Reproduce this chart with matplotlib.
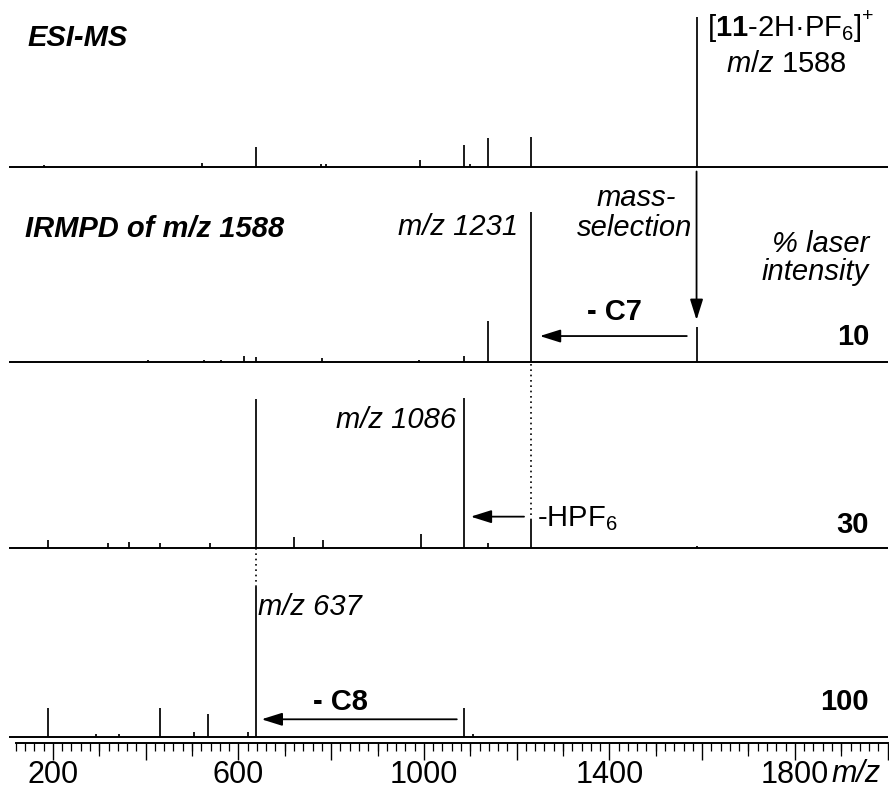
import matplotlib
matplotlib.use("Agg")
import matplotlib.pyplot as plt
from matplotlib.ticker import MultipleLocator, FuncFormatter

plt.rcParams['font.family'] = ['Liberation Sans', 'DejaVu Sans']
plt.rcParams['mathtext.fontset'] = 'custom'
plt.rcParams['mathtext.rm'] = 'Liberation Sans'
plt.rcParams['mathtext.it'] = 'Liberation Sans:italic'
plt.rcParams['mathtext.bf'] = 'Liberation Sans:bold'

# ---- spectra (m/z, relative intensity in %) ----
esi_mz = [181, 522, 637, 779, 790, 992, 1086, 1100, 1139, 1231, 1588]
esi_int = [1.3, 2.7, 13.3, 2.0, 2.0, 4.7, 14.7, 2.0, 19.3, 20.0, 100]

ir10_mz = [406, 526, 563, 612, 637, 780, 990, 1086, 1139, 1231, 1588]
ir10_int = [1.3, 1.3, 1.3, 4.0, 3.3, 2.7, 1.3, 4.0, 27.0, 100, 23.0]

ir30_mz = [189, 319, 364, 431, 539, 637, 720, 783, 994, 1086, 1139, 1231, 1588]
ir30_int = [5.0, 3.0, 4.0, 3.0, 3.0, 99.0, 7.0, 5.0, 9.0, 100, 3.0, 19.0, 1.3]

ir100_mz = [189, 293, 343, 431, 504, 535, 621, 637, 1086, 1106]
ir100_int = [19.0, 2.0, 2.0, 19.0, 3.0, 15.0, 3.0, 100, 19.0, 2.0]

spectra = [(esi_mz, esi_int), (ir10_mz, ir10_int), (ir30_mz, ir30_int), (ir100_mz, ir100_int)]
offsets = [384, 254, 130, 4]          # vertical stacking of the four traces
laser_power = ["10", "30", "100"]
tick_labels = [200, 600, 1000, 1400, 1800]

XMIN, XMAX = 120, 2000
YMAX = 495.33
FS = 21

fig = plt.figure(figsize=(8.89, 7.91), dpi=100)
ax = fig.add_axes([15.8 / 889, 48 / 791, 871.8 / 889, 743 / 791])
ax.set_xlim(XMIN, XMAX)
ax.set_ylim(0, YMAX)

# traces
for (mz, inten), off in zip(spectra, offsets):
    ax.plot([105, XMAX], [off, off], color='black', lw=1.4, clip_on=False,
            solid_capstyle='butt')
    ax.vlines(mz, off, [off + v for v in inten], color='black', lw=1.25)

# axis styling
for s in ['top', 'left', 'right']:
    ax.spines[s].set_visible(False)
ax.spines['bottom'].set_linewidth(1.4)
ax.yaxis.set_visible(False)
ax.xaxis.set_major_locator(MultipleLocator(200))
ax.xaxis.set_minor_locator(MultipleLocator(20))
ax.xaxis.set_major_formatter(FuncFormatter(
    lambda v, p: f"{int(v)}" if int(round(v)) in tick_labels else ""))
ax.tick_params(axis='x', which='major', direction='out', length=12.5, width=1.0,
               labelsize=22, pad=0)
ax.tick_params(axis='x', which='minor', direction='out', length=6, width=0.9)

# intermediate ticks every 100
sec = ax.secondary_xaxis('bottom')
sec.spines['bottom'].set_visible(False)
sec.set_xticks(list(range(300, 2000, 200)))
sec.set_xticklabels([])
sec.tick_params(axis='x', direction='out', length=9, width=0.9)

# axis unit next to the last tick label
fig.text(831 / 889, 1.5 / 791, "m/z", fontsize=22, style='italic',
         ha='left', va='bottom')

# headings
ax.text(146, 464.7, "ESI-MS", fontsize=FS, fontweight='bold', style='italic',
        ha='left', va='baseline')
ax.text(140, 337.3, "IRMPD of m/z 1588", fontsize=FS, fontweight='bold',
        style='italic', ha='left', va='baseline')

# precursor label
prec = ax.text(1778, 471.3, r"[$\mathbf{11}$-2H·PF$_6$]", fontsize=FS,
               ha='center', va='baseline')
ax.annotate("+", xy=(1.0, 0.6), xycoords=prec, fontsize=14, ha='left',
            va='bottom')
ax.text(1782, 447.3, r"$m/z$ 1588", fontsize=FS, ha='center', va='baseline')

# mass selection
arrow_kw = dict(arrowstyle='-|>,head_length=0.7,head_width=0.22',
                mutation_scale=18, lw=1.3, color='black', shrinkA=0, shrinkB=0)
ax.annotate('', xy=(1588, 282), xytext=(1588, 381), arrowprops=arrow_kw)
ax.text(1458, 358, "mass-", fontsize=FS, style='italic', ha='center', va='baseline')
ax.text(1455, 338, "selection", fontsize=FS, style='italic', ha='center',
        va='baseline')

ax.text(1960, 327.5, "% laser", fontsize=FS, style='italic', ha='right',
        va='baseline')
ax.text(1960, 308.7, "intensity", fontsize=FS, style='italic', ha='right',
        va='baseline')

# laser power labels
for lab, y in zip(laser_power, [265.3, 140, 22]):
    ax.text(1960, y, lab, fontsize=FS, fontweight='bold', ha='right', va='baseline')

# fragment labels
ax.text(1203, 338.7, "m/z 1231", fontsize=FS, style='italic', ha='right',
        va='baseline')
ax.text(1069, 210, "m/z 1086", fontsize=FS, style='italic', ha='right',
        va='baseline')
ax.text(642, 85.3, "m/z 637", fontsize=FS, style='italic', ha='left',
        va='baseline')

# -C7
ax.annotate('', xy=(1250, 271.3), xytext=(1567, 271.3), arrowprops=arrow_kw)
ax.text(1410, 282, "- C7", fontsize=FS, fontweight='bold', ha='center',
        va='baseline')
# -HPF6
ax.annotate('', xy=(1101, 150.9), xytext=(1216, 150.9), arrowprops=arrow_kw)
ax.text(1244, 144.5, r"-HPF$_6$", fontsize=FS, ha='left', va='baseline')
# -C8
ax.annotate('', xy=(650, 15.8), xytext=(1071, 15.8), arrowprops=arrow_kw)
ax.text(819, 22, "- C8", fontsize=FS, fontweight='bold', ha='center',
        va='baseline')

# dotted connectors
ax.plot([1231, 1231], [offsets[1] - 1.5, offsets[2] + 19.0], color='black',
        lw=1.2, dashes=(1, 2.2))
ax.plot([637, 637], [offsets[2], offsets[3] + 100], color='black', lw=1.2,
        dashes=(1, 2.2))

fig.savefig("out.png", dpi=100)
